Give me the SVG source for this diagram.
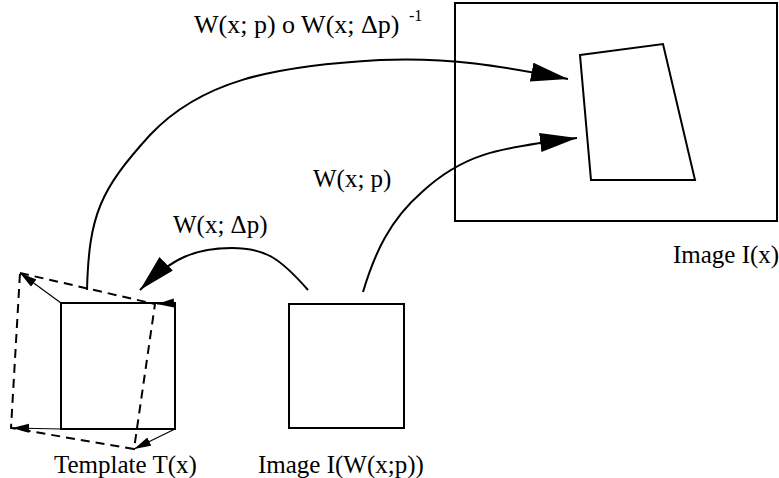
<svg xmlns="http://www.w3.org/2000/svg" width="779" height="478" viewBox="0 0 779 478">
  <style>
    .box { fill: none; stroke: #000; stroke-width: 2; }
    .curve { fill: none; stroke: #000; stroke-width: 2; }
    .thin { fill: none; stroke: #000; stroke-width: 1.2; }
    .dash { fill: none; stroke: #000; stroke-width: 2; stroke-dasharray: 9 6; }
    .lbl { font-family: "Liberation Serif", "Times New Roman", serif; font-size: 25px; fill: #000; }
    .big { font-size: 26px; }
    .sup { font-family: "Liberation Serif", "Times New Roman", serif; font-size: 16px; fill: #000; }
  </style>
  <defs>
    <marker id="bigHead" markerUnits="userSpaceOnUse" markerWidth="40" markerHeight="20" refX="37" refY="9.5" orient="auto">
      <path d="M0,0 L37,9.5 L0,19 Z" fill="#000"/>
    </marker>
    <marker id="smallHead" markerUnits="userSpaceOnUse" markerWidth="18" markerHeight="10" refX="17" refY="4.5" orient="auto">
      <path d="M0,0 L17,4.5 L0,9 Z" fill="#000"/>
    </marker>
  </defs>

  <!-- target image frame with warped region -->
  <g id="image-ix">
    <rect class="box" x="455" y="3" width="322" height="218"/>
    <polygon class="box" points="580,55 663,44 695,180 591,180"/>
    <text class="lbl" x="673" y="263">Image I(x)</text>
  </g>

  <!-- template with perturbed (dashed) outline -->
  <g id="template">
    <rect class="box" x="61" y="303" width="114" height="126"/>
    <polygon class="dash" points="20,273 155,304 134,449 11,428"/>
    <line class="thin" x1="61" y1="303" x2="20" y2="273" marker-end="url(#smallHead)"/>
    <line class="thin" x1="175" y1="303" x2="157" y2="304" marker-end="url(#smallHead)"/>
    <line class="thin" x1="175" y1="429" x2="134" y2="449" marker-end="url(#smallHead)"/>
    <line class="thin" x1="61" y1="429" x2="12" y2="428" marker-end="url(#smallHead)"/>
    <text class="lbl" x="54" y="473">Template T(x)</text>
  </g>

  <!-- warped image -->
  <g id="warped-image">
    <rect class="box" x="289" y="304" width="115" height="124"/>
    <text class="lbl" x="258" y="473">Image I(W(x;p))</text>
  </g>

  <!-- warps between the frames -->
  <g id="connectors">
    <path class="curve" d="M87,290 C89,215 100,190 150,135 C200,82 270,66 380,60 C450,57 500,66 568,79" marker-end="url(#bigHead)"/>
    <path class="curve" d="M363,292 C375,252 390,220 422,192 C462,155 495,148 577,138" marker-end="url(#bigHead)"/>
    <path class="curve" d="M308,290 C280,258 265,248 232,248 C195,248 172,258 140,290" marker-end="url(#bigHead)"/>
  </g>

  <!-- warp labels -->
  <g id="labels">
    <text class="lbl big" x="194" y="33">W(x; p) o W(x; Δp)</text>
    <text class="sup" x="409" y="21">-1</text>
    <text class="lbl" x="313" y="187">W(x; p)</text>
    <text class="lbl" x="173" y="233">W(x; Δp)</text>
  </g>
</svg>
